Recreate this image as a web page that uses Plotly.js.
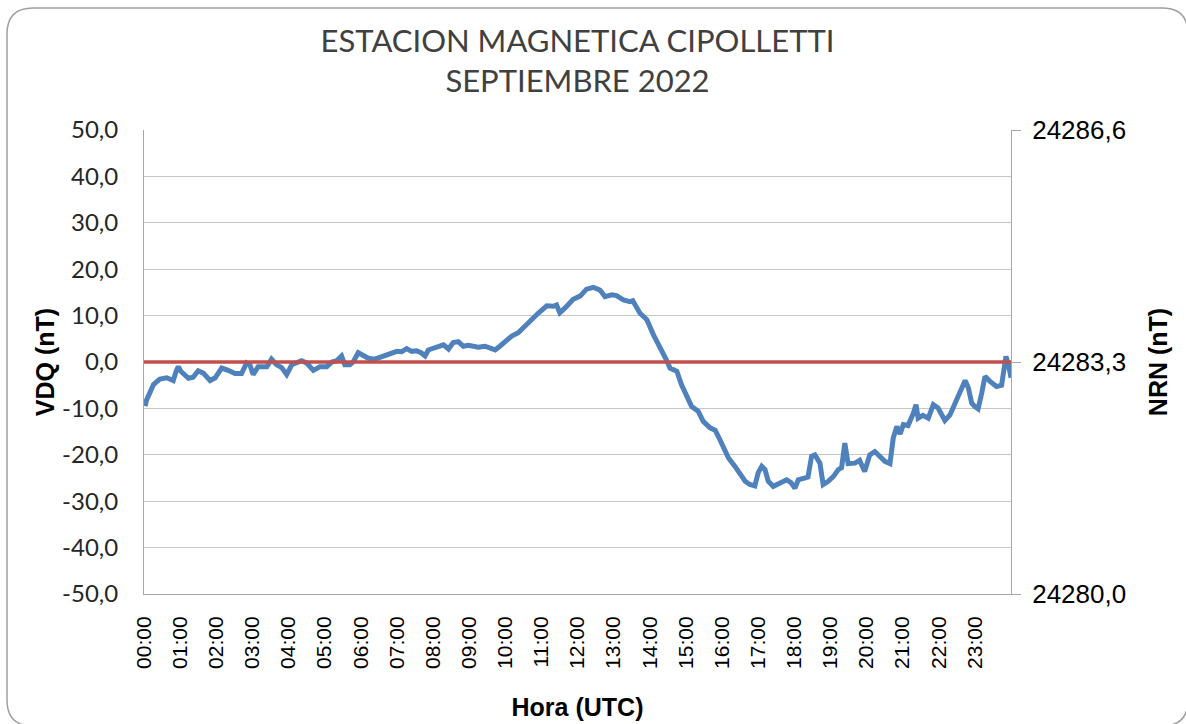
<!DOCTYPE html>
<html>
<head>
<meta charset="utf-8">
<script src="https://cdn.plot.ly/plotly-3.0.1.min.js"></script>
<style>html,body{margin:0;padding:0;background:#fff;}#chart{width:1186px;height:724px;}</style>
</head>
<body>
<div id="chart"></div>
<script>
// ---- data ----
const hourTickVals = [0,1,2,3,4,5,6,7,8,9,10,11,12,13,14,15,16,17,18,19,20,21,22,23];
const hourTickText = ["00:00","01:00","02:00","03:00","04:00","05:00","06:00","07:00","08:00","09:00","10:00","11:00","12:00","13:00","14:00","15:00","16:00","17:00","18:00","19:00","20:00","21:00","22:00","23:00"];

const vdqTickVals = [-50,-40,-30,-20,-10,0,10,20,30,40,50];
const vdqTickText = ["-50,0","-40,0","-30,0","-20,0","-10,0","0,0","10,0","20,0","30,0","40,0","50,0"];

const timeHours = [0.03,0.07,0.17,0.26,0.36,0.44,0.63,0.72,0.81,0.89,0.95,1.02,1.09,1.23,1.36,1.50,1.64,1.83,1.97,2.15,2.33,2.52,2.70,2.84,2.93,3.02,3.16,3.40,3.53,3.67,3.81,3.95,4.09,4.22,4.36,4.50,4.69,4.87,5.06,5.20,5.34,5.47,5.56,5.70,5.79,5.93,6.07,6.21,6.39,6.62,6.81,7.00,7.13,7.27,7.41,7.55,7.67,7.78,7.87,8.06,8.29,8.43,8.56,8.70,8.84,8.98,9.12,9.25,9.44,9.58,9.72,9.85,9.99,10.18,10.36,10.55,10.73,10.91,11.15,11.33,11.42,11.51,11.65,11.88,12.07,12.25,12.44,12.62,12.76,12.95,13.08,13.27,13.45,13.53,13.73,13.92,14.10,14.28,14.47,14.56,14.75,14.88,15.02,15.16,15.34,15.48,15.67,15.81,15.94,16.08,16.18,16.36,16.50,16.64,16.77,16.91,17.00,17.10,17.19,17.28,17.42,17.61,17.79,17.91,18.02,18.11,18.25,18.38,18.48,18.57,18.71,18.80,18.94,19.08,19.22,19.31,19.40,19.49,19.68,19.81,19.95,20.09,20.23,20.37,20.51,20.65,20.74,20.84,20.93,21.02,21.15,21.30,21.37,21.43,21.56,21.71,21.85,21.98,22.17,22.31,22.45,22.59,22.73,22.82,22.91,23.00,23.09,23.19,23.28,23.42,23.60,23.74,23.78,23.86,23.93,24.00];

const vdq = [-9.5,-8.2,-6.5,-4.9,-4.2,-3.7,-3.4,-3.6,-4.0,-2.0,-1.0,-2.0,-2.4,-3.5,-3.3,-1.9,-2.4,-4.0,-3.4,-1.3,-1.8,-2.5,-2.5,-0.2,-0.6,-2.7,-1.0,-1.0,0.6,-0.6,-1.2,-2.7,-0.6,-0.1,0.3,-0.2,-1.8,-1.0,-1.0,0.0,0.3,1.3,-0.6,-0.6,0.0,2.0,1.3,0.8,0.6,1.3,1.9,2.3,2.2,2.9,2.3,2.4,2.0,1.3,2.6,3.0,3.7,2.8,4.2,4.4,3.4,3.6,3.4,3.2,3.4,3.0,2.6,3.4,4.4,5.6,6.3,7.8,8.9,10.5,12.1,12.0,12.3,10.6,11.6,13.5,14.2,15.7,16.1,15.5,14.1,14.5,14.3,13.4,13.0,13.2,10.5,9.1,5.9,3.4,0.3,-1.3,-2.0,-4.9,-7.2,-9.6,-10.6,-12.8,-14.2,-14.7,-16.7,-19.3,-20.7,-22.5,-23.9,-25.7,-26.4,-26.7,-23.9,-22.5,-23.2,-25.7,-26.8,-26.2,-25.4,-26.0,-27.2,-25.4,-25.0,-24.8,-20.3,-20.0,-21.8,-26.4,-25.7,-24.7,-23.2,-22.8,-17.5,-21.9,-21.8,-21.2,-23.6,-20.0,-19.3,-20.3,-21.4,-21.9,-16.4,-13.9,-15.5,-13.5,-13.7,-11.0,-9.2,-12.1,-11.5,-12.1,-9.2,-9.9,-12.6,-11.4,-8.8,-6.0,-4.0,-5.6,-8.8,-9.6,-10.1,-6.7,-3.1,-4.2,-5.3,-5.0,-2.7,1.2,-0.5,-3.4];

const nrnTime = [0, 24];
const nrn = [24283.3, 24283.3];
const nrnTickVals = [24280.0, 24283.3, 24286.6];

// ---- layout helpers (pixel geometry of the plot area) ----
const W = 1186, H = 724;
const PL = 144, PR = 1011, PT = 130, PB = 594;
const px = v => (v - PL) / (PR - PL);
const py = v => (PB - v) / (PB - PT);

function framePath(x0, y0, x1, y1, r) {
  return `M ${px(x0)},${py(y1 - r)} L ${px(x0)},${py(y0 + r)} Q ${px(x0)},${py(y0)} ${px(x0 + r)},${py(y0)} ` +
         `L ${px(x1 - r)},${py(y0)} Q ${px(x1)},${py(y0)} ${px(x1)},${py(y0 + r)} ` +
         `L ${px(x1)},${py(y1 - r)} Q ${px(x1)},${py(y1)} ${px(x1 - r)},${py(y1)} ` +
         `L ${px(x0 + r)},${py(y1)} Q ${px(x0)},${py(y1)} ${px(x0)},${py(y1 - r)} Z`;
}

const traces = [
  {
    x: nrnTime, y: nrn, yaxis: 'y2', type: 'scatter', mode: 'lines',
    name: 'NRN', line: {color: '#c0504d', width: 3.5}, hoverinfo: 'skip'
  },
  {
    x: timeHours, y: vdq, type: 'scatter', mode: 'lines',
    name: 'VDQ', line: {color: '#4f81bd', width: 5}
  }
];

const layout = {
  width: W, height: H,
  margin: {l: PL, r: W - PR, t: PT, b: H - PB, pad: 0},
  paper_bgcolor: '#ffffff', plot_bgcolor: '#ffffff',
  showlegend: false,
  separators: ',.',
  title: {
    text: 'ESTACION MAGNETICA CIPOLLETTI<br>SEPTIEMBRE 2022',
    font: {family: 'Lato, "Open Sans", sans-serif', size: 31, color: '#404040'},
    x: 0.5, xref: 'paper', xanchor: 'center',
    y: 1 - 52 / H, yref: 'container', yanchor: 'top'
  },
  xaxis: {
    range: [0, 24], tickmode: 'array', tickvals: hourTickVals, ticktext: hourTickText,
    tickangle: -90, ticks: '', ticklabelstandoff: 13,
    tickfont: {family: '"Liberation Sans", Arial, sans-serif', size: 21, color: '#000'},
    showgrid: false, zeroline: false, showline: true, linecolor: '#a6a6a6', linewidth: 1,
    title: {text: 'Hora (UTC)', font: {family: '"Liberation Sans", Arial, sans-serif', size: 25, color: '#000', weight: 'bold'}, standoff: 30},
    fixedrange: true
  },
  yaxis: {
    range: [-50, 50], tickmode: 'array', tickvals: vdqTickVals, ticktext: vdqTickText, ticks: '',
    ticklabelstandoff: 20,
    tickfont: {family: 'Lato, "Open Sans", sans-serif', size: 24, color: '#262626'},
    showgrid: true, gridcolor: '#c6c6c6', gridwidth: 1, zeroline: false,
    showline: true, linecolor: '#a6a6a6', linewidth: 1,
    title: {text: 'VDQ (nT)', font: {family: '"Liberation Sans", Arial, sans-serif', size: 25, color: '#000', weight: 'bold'}, standoff: 0},
    fixedrange: true
  },
  yaxis2: {
    overlaying: 'y', side: 'right', range: [24280.0, 24286.6],
    tickmode: 'array', tickvals: nrnTickVals, tickformat: '.1f',
    ticks: 'outside', ticklen: 9, tickcolor: '#a6a6a6', ticklabelstandoff: 6,
    tickfont: {family: '"Liberation Sans", Arial, sans-serif', size: 26, color: '#000'},
    showgrid: false, zeroline: false, showline: true, linecolor: '#a6a6a6', linewidth: 1,
    title: {text: 'NRN (nT)', font: {family: '"Liberation Sans", Arial, sans-serif', size: 25, color: '#000', weight: 'bold'}, standoff: 24},
    fixedrange: true
  },
  shapes: [
    {type: 'path', xref: 'paper', yref: 'paper', path: framePath(7, 8, 1188, 726, 26),
     line: {color: '#a0a0a0', width: 1.5}, fillcolor: 'rgba(0,0,0,0)', layer: 'below'}
  ]
};

Plotly.newPlot('chart', traces, layout, {displayModeBar: false, staticPlot: true});
</script>
</body>
</html>
